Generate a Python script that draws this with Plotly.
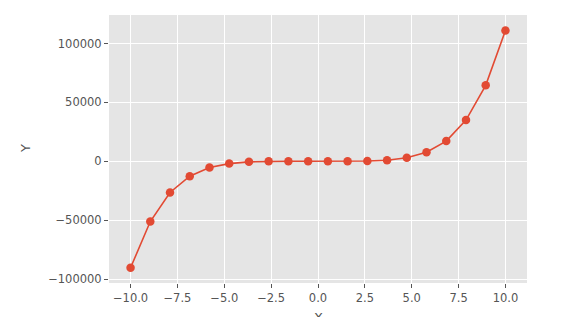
import plotly.graph_objects as go

x_vals = [-10.0, -8.947, -7.895, -6.842, -5.789, -4.737, -3.684, -2.632, -1.579, -0.526,
          0.526, 1.579, 2.632, 3.684, 4.737, 5.789, 6.842, 7.895, 8.947, 10.0]
y_vals = [-90500, -51200, -26500, -12700, -5300, -2000, -500, -80, -4, 0,
          0, 16, 175, 870, 2900, 7600, 17100, 35000, 64500, 111000]
x_ticks = [-10.0, -7.5, -5.0, -2.5, 0.0, 2.5, 5.0, 7.5, 10.0]
x_tick_labels = ["\u221210.0", "\u22127.5", "\u22125.0", "\u22122.5", "0.0", "2.5", "5.0", "7.5", "10.0"]
y_ticks = [-100000, -50000, 0, 50000, 100000]
y_tick_labels = ["\u2212100000", "\u221250000", "0", "50000", "100000"]

fig = go.Figure()
fig.add_trace(go.Scatter(
    x=x_vals, y=y_vals, mode="lines+markers",
    line=dict(color="#E24A33", width=1.6),
    marker=dict(color="#E24A33", size=8.5),
    showlegend=False,
))

axis_common = dict(
    showgrid=True, gridcolor="white", gridwidth=1.2,
    zeroline=False, showline=False,
    ticks="outside", ticklen=4, tickwidth=1, tickcolor="#555555",
    tickfont=dict(family="DejaVu Sans", size=11.5, color="#555555"),
)

fig.update_layout(
    width=576, height=317,
    margin=dict(l=109, r=49, t=15, b=32),
    paper_bgcolor="white", plot_bgcolor="#E5E5E5",
    xaxis=dict(range=[-11.15, 11.15], tickvals=x_ticks, ticktext=x_tick_labels, **axis_common),
    yaxis=dict(range=[-103400, 124200], tickvals=y_ticks, ticktext=y_tick_labels, **axis_common),
    annotations=[
        dict(text="X", xref="paper", yref="paper", x=0.5, y=0, yanchor="top", xanchor="center",
             yshift=-25, showarrow=False, font=dict(family="DejaVu Sans", size=13, color="#555555")),
        dict(text="Y", xref="paper", yref="paper", x=0, y=0.5, xanchor="center", yanchor="middle",
             xshift=-84, textangle=-90, showarrow=False,
             font=dict(family="DejaVu Sans", size=13, color="#555555")),
    ],
)

fig.write_html("out.html")
